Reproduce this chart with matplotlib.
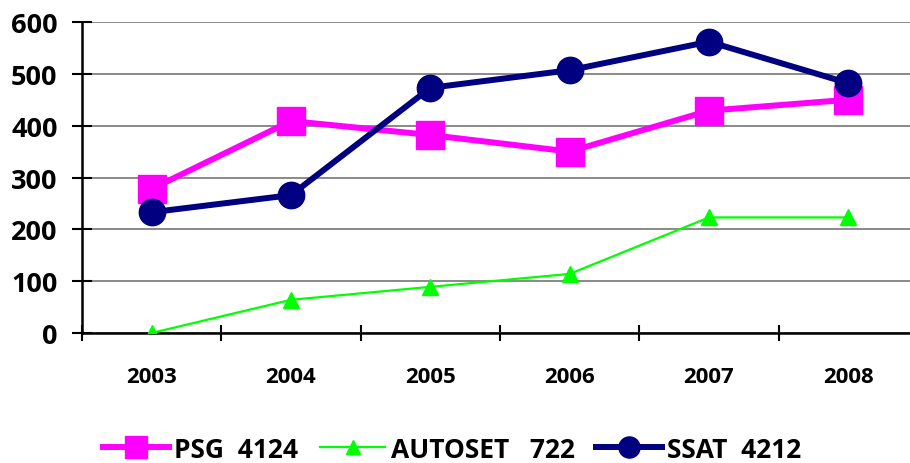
import matplotlib.pyplot as plt

# Data
years = ['2003', '2004', '2005', '2006', '2007', '2008']
psg = [278, 409, 382, 350, 429, 450]
autoset = [0, 64, 89, 114, 223, 223]
ssat = [233, 266, 473, 507, 562, 482]
labels = ['PSG  4124', 'AUTOSET   722', 'SSAT  4212']

plt.rcParams['font.family'] = ['Open Sans', 'DejaVu Sans']
plt.rcParams['font.weight'] = 'bold'

fig = plt.figure(figsize=(9.1, 4.64), dpi=100)
ax = fig.add_axes([0.0901, 0.2802, 0.9187, 0.6702])

x = list(range(len(years)))
ax.plot(x, psg, color='#ff00ff', lw=4.3, marker='s', ms=20, label=labels[0], zorder=3)
ax.plot(x, autoset, color='#00ff00', lw=1.6, marker='^', ms=12, label=labels[1], zorder=4)
ax.plot(x, ssat, color='#000080', lw=4.3, marker='o', ms=19, label=labels[2], zorder=5)

ax.set_ylim(0, 600)
ax.set_xlim(-0.5, 5.5)
ax.set_yticks(range(0, 601, 100))
ax.yaxis.grid(True, color='#808080', lw=1.3)
ax.set_axisbelow(True)

# category boundaries get the tick marks, centers get the labels
ax.set_xticks([i - 0.5 for i in range(len(years) + 1)])
ax.set_xticklabels([])
ax.set_xticks(x, minor=True)
ax.set_xticklabels(years, minor=True, fontsize=16, fontweight='bold')
ax.tick_params(axis='x', which='major', direction='inout', length=12, width=1.5)
ax.tick_params(axis='x', which='minor', length=0, pad=24)
ax.tick_params(axis='y', direction='inout', length=15, width=1.5, labelsize=19.5, pad=10)
for lab in ax.get_yticklabels():
    lab.set_fontweight('bold')

for s in ['top', 'right']:
    ax.spines[s].set_visible(False)
for s in ['left', 'bottom']:
    ax.spines[s].set_linewidth(1.8)

fig.legend(loc='center', bbox_to_anchor=(0.497, 0.03), ncol=3, frameon=False,
           handlelength=2.5, markerscale=0.8, columnspacing=0.8,
           handletextpad=0.2, prop={'weight': 'bold', 'size': 19})

fig.savefig('out.png', dpi=100)
